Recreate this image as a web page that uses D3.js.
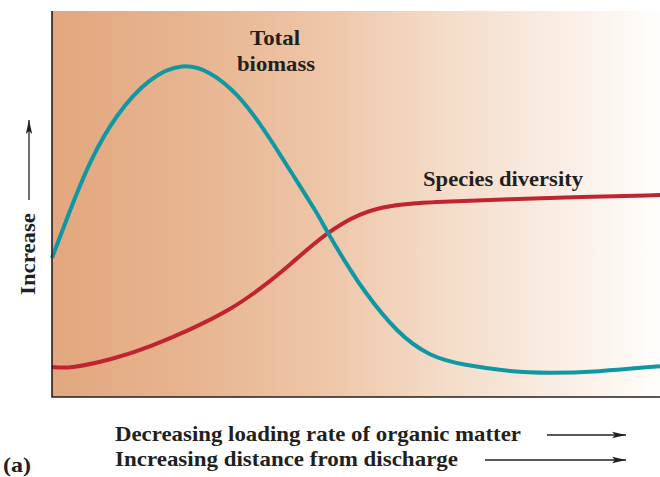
<!DOCTYPE html>
<html><head><meta charset="utf-8">
<script src="https://cdn.jsdelivr.net/npm/d3@7"></script>
<style>html,body{margin:0;padding:0;background:#fff;}svg{display:block;}</style>
</head><body>
<svg id="chart" width="660" height="477"></svg>
<script>
// Data (x: position along stream 0-100, y: relative level 0-100)
const biomassX = [0, 2.96, 6.25, 10.7, 16.1, 21.5, 26.0, 30.4, 34.7, 39.1, 43.6, 45.2, 49.0, 51.2, 56.7, 62.2, 67.6, 75.8, 81.4, 89.6, 100];
const biomassY = [36.0, 48.4, 61.4, 73.6, 82.9, 86.6, 84.4, 78.8, 69.9, 58.8, 47.7, 42.9, 33.0, 27.7, 16.6, 10.4, 8.3, 6.5, 6.2, 6.5, 8.0];
const diversityX = [0, 2.96, 10.7, 16.1, 22.7, 29.3, 34.7, 39.1, 45.2, 50.7, 55.6, 62.2, 75.8, 86.8, 100];
const diversityY = [7.8, 7.3, 10.1, 13.0, 17.4, 22.5, 28.5, 34.2, 42.7, 47.7, 49.7, 50.5, 51.3, 51.8, 52.3];
const seriesLabels = ["Total|biomass", "Species diversity"];
const yAxisLabel = "Increase";
const xAxisLabels = ["Decreasing loading rate of organic matter", "Increasing distance from discharge"];
const panelLabel = "(a)";

const svg = d3.select("#chart");
const L = 52, R = 660, T = 11, B = 397;
const x = d3.scaleLinear().domain([0, 100]).range([L, R]);
const y = d3.scaleLinear().domain([0, 100]).range([B, T]);
const font = "'Liberation Serif','Times New Roman',serif";
const ink = "#231f20";

const defs = svg.append("defs");
const grad = defs.append("linearGradient").attr("id", "bg").attr("x1", "0").attr("x2", "1").attr("y1", "0").attr("y2", "0");
[[0, "#e2a77e"], [0.25, "#e8b692"], [0.45, "#eec6a8"], [0.65, "#f4dcc9"], [0.82, "#f9ece2"], [1, "#fffdfb"]]
  .forEach(([o, c]) => grad.append("stop").attr("offset", o).attr("stop-color", c));
defs.append("marker").attr("id", "ah").attr("viewBox", "0 0 14 10").attr("refX", 14).attr("refY", 5)
  .attr("markerWidth", 14).attr("markerHeight", 10).attr("markerUnits", "userSpaceOnUse").attr("orient", "auto")
  .append("path").attr("d", "M0,1.8 L14,5 L0,8.2 L3,5 Z").attr("fill", ink);

svg.append("rect").attr("x", L).attr("y", T).attr("width", R - L).attr("height", B - T).attr("fill", "url(#bg)");

const line = d3.line().x(d => x(d[0])).y(d => y(d[1])).curve(d3.curveBasis);
svg.append("path").datum(diversityX.map((v, i) => [v, diversityY[i]]))
  .attr("d", line).attr("fill", "none").attr("stroke", "#bf2430").attr("stroke-width", 4);
svg.append("path").datum(biomassX.map((v, i) => [v, biomassY[i]]))
  .attr("d", line).attr("fill", "none").attr("stroke", "#0f97a4").attr("stroke-width", 4);

// axes
svg.append("path").attr("d", `M${L},${T} L${L},${B} L${R},${B}`).attr("fill", "none").attr("stroke", ink).attr("stroke-width", 1.6);

function txt(sel, s, len) {
  return sel.append("text").attr("font-family", font).attr("font-weight", "bold").attr("font-size", 22)
    .attr("fill", ink).attr("textLength", len).attr("lengthAdjust", "spacingAndGlyphs").text(s);
}
const bl = seriesLabels[0].split("|");
txt(svg, bl[0], 50).attr("x", 250).attr("y", 45);
txt(svg, bl[1], 78).attr("x", 237).attr("y", 71);
txt(svg, seriesLabels[1], 160).attr("x", 423).attr("y", 186);

txt(svg, yAxisLabel, 82).attr("transform", "translate(35,295) rotate(-90)");
svg.append("line").attr("x1", 29).attr("x2", 29).attr("y1", 200).attr("y2", 120)
  .attr("stroke", ink).attr("stroke-width", 1.3).attr("marker-end", "url(#ah)");

[[441, 406, 547], [466, 343, 485]].forEach(([yy, len, ax], i) => {
  txt(svg, xAxisLabels[i], len).attr("x", 115).attr("y", yy);
  svg.append("line").attr("x1", ax).attr("x2", 626).attr("y1", yy - 6).attr("y2", yy - 6)
    .attr("stroke", ink).attr("stroke-width", 1.3).attr("marker-end", "url(#ah)");
});
txt(svg, panelLabel, 28).attr("x", 3).attr("y", 472);
</script>
</body></html>
